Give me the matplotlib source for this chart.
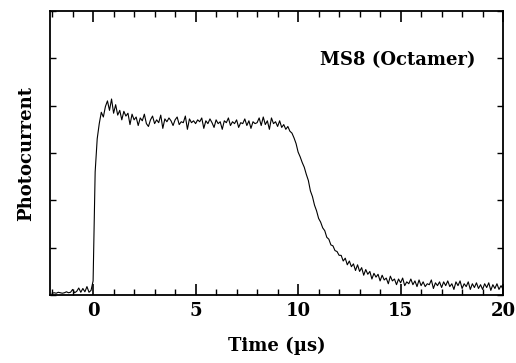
import numpy as np
import matplotlib
matplotlib.use("Agg")
import matplotlib.pyplot as plt
from matplotlib.ticker import MultipleLocator, NullFormatter

# Sampling grid of the trace (µs), one sample every 0.1 µs from -2 to 20
t_start, t_step = -2.0, 0.1

# Photocurrent (arb. units)
current = [
    0.04, 0.05, 0.04, 0.06, 0.05, 0.04, 0.05, 0.07, 0.05, 0.06,
    0.12, 0.05, 0.08, 0.15, 0.06, 0.14, 0.07, 0.18, 0.06, 0.10,
    0.30, 2.60, 3.30, 3.62, 3.86, 3.76, 3.98, 4.10, 3.90, 4.14,
    3.84, 4.02, 3.80, 3.90, 3.70, 3.88, 3.78, 3.84, 3.60, 3.82,
    3.70, 3.76, 3.58, 3.74, 3.68, 3.82, 3.62, 3.56, 3.70, 3.78,
    3.62, 3.70, 3.64, 3.80, 3.52, 3.72, 3.66, 3.74, 3.68, 3.58,
    3.70, 3.76, 3.60, 3.66, 3.64, 3.78, 3.50, 3.72, 3.64, 3.68,
    3.62, 3.70, 3.66, 3.74, 3.52, 3.68, 3.62, 3.72, 3.64, 3.54,
    3.70, 3.62, 3.66, 3.50, 3.68, 3.64, 3.74, 3.58, 3.66, 3.62,
    3.70, 3.54, 3.64, 3.62, 3.72, 3.58, 3.68, 3.52, 3.66, 3.62,
    3.64, 3.74, 3.58, 3.76, 3.60, 3.68, 3.50, 3.74, 3.62, 3.66,
    3.56, 3.68, 3.54, 3.60, 3.50, 3.56, 3.46, 3.42, 3.32, 3.20,
    3.02, 2.92, 2.80, 2.70, 2.55, 2.42, 2.20, 2.08, 1.90, 1.78,
    1.62, 1.54, 1.42, 1.36, 1.22, 1.18, 1.06, 1.04, 0.94, 0.92,
    0.84, 0.84, 0.72, 0.78, 0.64, 0.72, 0.60, 0.66, 0.52, 0.64,
    0.50, 0.58, 0.42, 0.54, 0.44, 0.50, 0.34, 0.46, 0.38, 0.44,
    0.30, 0.42, 0.32, 0.36, 0.24, 0.40, 0.30, 0.34, 0.22, 0.34,
    0.26, 0.36, 0.20, 0.28, 0.24, 0.34, 0.22, 0.30, 0.18, 0.32,
    0.20, 0.28, 0.18, 0.24, 0.22, 0.32, 0.14, 0.26, 0.20, 0.28,
    0.16, 0.28, 0.20, 0.30, 0.18, 0.24, 0.12, 0.28, 0.20, 0.30,
    0.14, 0.24, 0.18, 0.28, 0.12, 0.24, 0.16, 0.26, 0.14, 0.22,
    0.12, 0.24, 0.16, 0.26, 0.10, 0.22, 0.14, 0.24, 0.12, 0.20,
    0.12,
]
time = t_start + t_step * np.arange(len(current))

x_ticks = [0, 5, 10, 15, 20]
x_ticklabels = ["0", "5", "10", "15", "20"]
y_ticks = [0, 1, 2, 3, 4, 5, 6]
title_text = "MS8 (Octamer)"
x_label = "Time (\u00b5s)"
y_label = "Photocurrent"

plt.rcParams["font.family"] = ["DejaVu Serif"]
FS = 13
FW = "bold"

fig = plt.figure(figsize=(5.16, 3.63), dpi=100)
ax = fig.add_axes([0.097, 0.187, 0.878, 0.783])

ax.plot(time, current, color="black", lw=0.8)

ax.set_xlim(-2.1, 20.0)
ax.set_ylim(0, 6)
ax.set_xticks(x_ticks)
ax.set_xticklabels(x_ticklabels, fontweight=FW)
ax.xaxis.set_minor_locator(MultipleLocator(1))
ax.set_yticks(y_ticks)
ax.yaxis.set_major_formatter(NullFormatter())

ax.tick_params(axis="x", which="major", direction="in", length=8, width=1.2,
               top=True, labelsize=FS, pad=5)
ax.tick_params(axis="x", which="minor", direction="in", length=4.5, width=1.0,
               top=True)
ax.tick_params(axis="y", which="major", direction="in", length=4.5, width=1.0,
               right=True)
for s in ax.spines.values():
    s.set_linewidth(1.3)

ax.set_xlabel(x_label, fontsize=FS, fontweight=FW, labelpad=12)
ax.set_ylabel(y_label, fontsize=FS, fontweight=FW, labelpad=7)

ax.text(18.65, 4.97, title_text, fontsize=FS, fontweight=FW,
        ha="right", va="center")

fig.savefig("out.png", dpi=100)
